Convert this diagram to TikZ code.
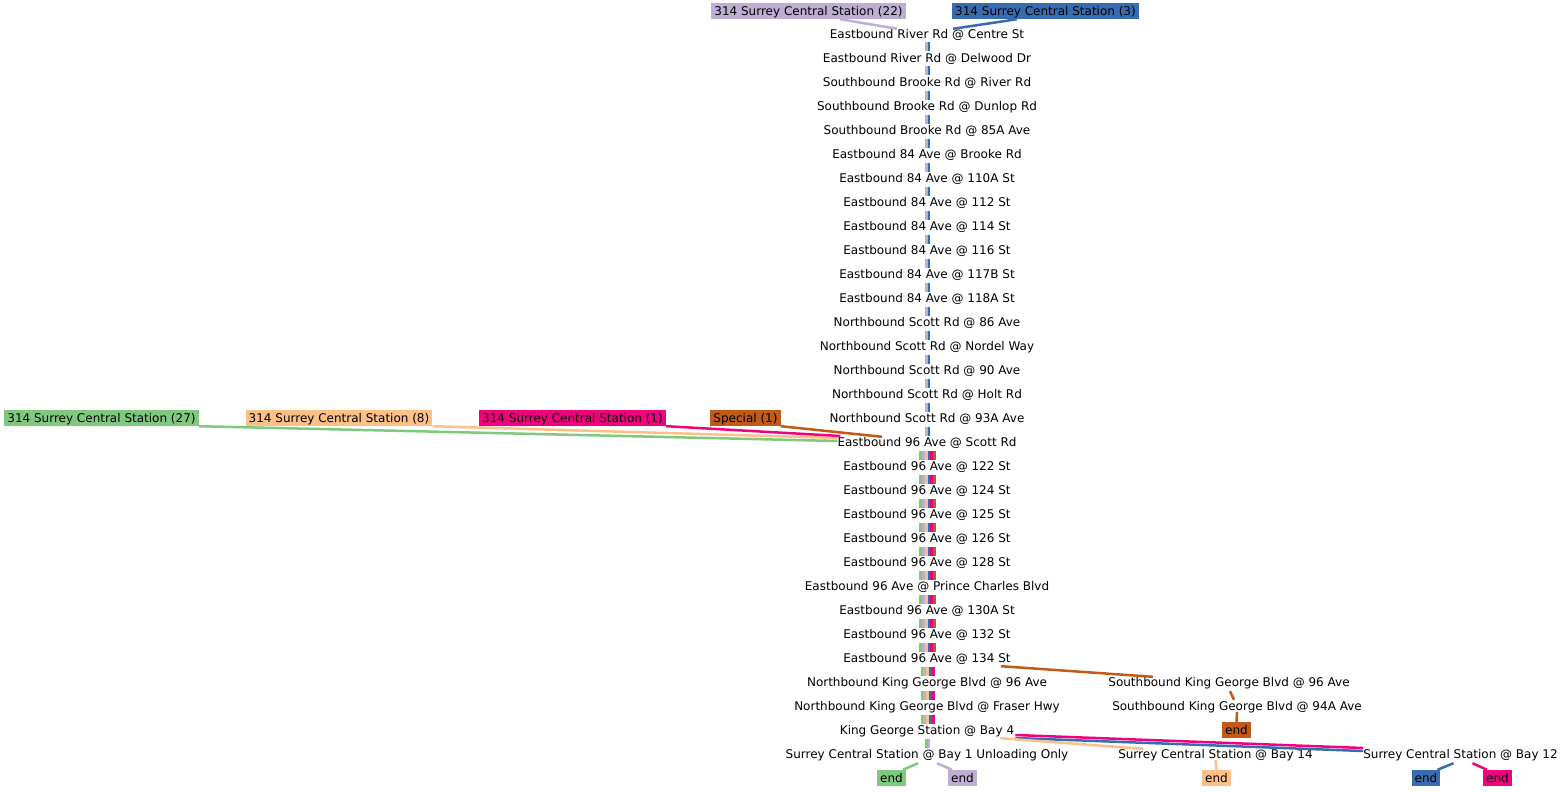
\documentclass[tikz,border=0pt]{standalone}
\usepackage{fontspec}
\setmainfont{DejaVu Sans}
\usetikzlibrary{calc}
\definecolor{cg}{HTML}{7FC97F}
\definecolor{cp}{HTML}{BEAED4}
\definecolor{co}{HTML}{FDC086}
\definecolor{cb}{HTML}{386CB0}
\definecolor{ck}{HTML}{F0027F}
\definecolor{cr}{HTML}{BF5B17}
\newcommand\segstripes[4]{%
  \foreach \i in {#1,...,#2}{%
    \pgfmathtruncatemacro\j{\i+1}%
    \foreach \c [count=\k from 0] in {#4}{%
      \pgfmathsetmacro\dx{0.5+(\k-(#3-1)/2)*2.8}%
      \draw[stripe=\c] ($(s\i)+(\dx,8.5)$) -- ($(s\j)+(\dx,-6.5)$);
    }}}
\begin{document}
\begin{tikzpicture}[x=1pt,y=-1pt,
  stop/.style={inner sep=0pt, text height=10.5pt, text depth=1.5pt, font=\fontsize{12}{14}\selectfont},
  tag/.style={stop, inner xsep=3pt, inner ysep=2pt, fill=#1},
  link/.style={line width=2.5pt, draw=#1},
  stripe/.style={line width=2.8pt, draw=#1}]
\useasboundingbox[fill=white] (0,0) rectangle (1566,792);
\foreach \i/\t in {
  0/Eastbound River Rd @ Centre St,
  1/Eastbound River Rd @ Delwood Dr,
  2/Southbound Brooke Rd @ River Rd,
  3/Southbound Brooke Rd @ Dunlop Rd,
  4/Southbound Brooke Rd @ 85A Ave,
  5/Eastbound 84 Ave @ Brooke Rd,
  6/Eastbound 84 Ave @ 110A St,
  7/Eastbound 84 Ave @ 112 St,
  8/Eastbound 84 Ave @ 114 St,
  9/Eastbound 84 Ave @ 116 St,
  10/Eastbound 84 Ave @ 117B St,
  11/Eastbound 84 Ave @ 118A St,
  12/Northbound Scott Rd @ 86 Ave,
  13/Northbound Scott Rd @ Nordel Way,
  14/Northbound Scott Rd @ 90 Ave,
  15/Northbound Scott Rd @ Holt Rd,
  16/Northbound Scott Rd @ 93A Ave,
  17/Eastbound 96 Ave @ Scott Rd,
  18/Eastbound 96 Ave @ 122 St,
  19/Eastbound 96 Ave @ 124 St,
  20/Eastbound 96 Ave @ 125 St,
  21/Eastbound 96 Ave @ 126 St,
  22/Eastbound 96 Ave @ 128 St,
  23/Eastbound 96 Ave @ Prince Charles Blvd,
  24/Eastbound 96 Ave @ 130A St,
  25/Eastbound 96 Ave @ 132 St,
  26/Eastbound 96 Ave @ 134 St,
  27/Northbound King George Blvd @ 96 Ave,
  28/Northbound King George Blvd @ Fraser Hwy,
  29/King George Station @ Bay 4,
  30/Surrey Central Station @ Bay 1 Unloading Only}
  \node[stop] (s\i) at (927,{34+24*\i}) {\t};
\node[stop] (r1) at (1229,682) {Southbound King George Blvd @ 96 Ave};
\node[stop] (r2) at (1237,706) {Southbound King George Blvd @ 94A Ave};
\node[stop] (r3) at (1215.5,754) {Surrey Central Station @ Bay 14};
\node[stop] (r4) at (1460.5,754) {Surrey Central Station @ Bay 12};
% tags
\node[tag=cp] (lp22) at (808.5,11) {314 Surrey Central Station (22)};
\node[tag=cb] (lb3) at (1045.5,11) {314 Surrey Central Station (3)};
\node[tag=cg] (lg27) at (101.5,418) {314 Surrey Central Station (27)};
\node[tag=co] (lo8) at (339,418) {314 Surrey Central Station (8)};
\node[tag=ck] (lk1) at (572.5,418) {314 Surrey Central Station (1)};
\node[tag=cr] (lsp) at (745.5,418) {Special (1)};
\node[tag=cg] (eg) at (891.5,778) {end};
\node[tag=cp] (ep) at (962.5,778) {end};
\node[tag=cr] (er) at (1236.5,730) {end};
\node[tag=co] (eo) at (1216.5,778) {end};
\node[tag=cb] (eb) at (1426,778) {end};
\node[tag=ck] (ek) at (1497.5,778) {end};
% stripes
\segstripes{0}{16}{2}{cp,cb}
\segstripes{17}{25}{6}{cg,cp,co,cb,ck,cr}
\segstripes{26}{28}{5}{cg,cp,co,cb,ck}
\foreach \c [count=\k from 0] in {cg,cp}{%
  \pgfmathsetmacro\dx{0.5+(\k-0.5)*2.8}%
  \draw[stripe=\c] ($(s29)+(\dx,8.5)$) -- ($(s30)+(\dx,-6.5)$);}
% connectors
\draw[link=cp] ($(lp22.south)+(31.5,0)$) -- ($(s0.north)+(-30,1)$);
\draw[link=cb] ($(lb3.south)+(-28.5,0)$) -- ($(s0.north)+(26,1)$);
\draw[link=cg] (lg27.south east) -- ($(s17.west)+(0,-1)$);
\draw[link=co] (lo8.south east) -- ($(s17.west)+(0,-4)$);
\draw[link=ck] (lk1.south east) -- ($(s17.west)+(3,-6)$);
\draw[link=cr] (lsp.south east) -- ($(s17.north)+(-45,1)$);
\draw[link=cr] ($(s26.south east)+(-10,2)$) -- ($(r1.north)+(-76,1)$);
\draw[link=cr] ($(r1.south)+(1,3)$) -- ($(r2.north)+(-3,0)$);
\draw[link=cr] (r2.south) -- (er.north);
\draw[link=ck] ($(s29.east)+(1,5)$) -- ($(r4.west)+(0,-6)$);
\draw[link=cb] ($(s29.east)+(1,8)$) -- ($(r4.west)+(0,-3)$);
\draw[link=co] ($(s29.south east)+(-14,2)$) -- ($(r3.north)+(-72,1)$);
\draw[link=co] (r3.south) -- (eo.north);
\draw[link=cb] ($(r4.south)+(-7,3)$) -- ($(eb.north east)+(-3,0)$);
\draw[link=ck] ($(r4.south)+(12,3)$) -- ($(ek.north west)+(4,0)$);
\draw[link=cg] ($(s30.south)+(-9,3)$) -- ($(eg.north east)+(-3,0)$);
\draw[link=cp] ($(s30.south)+(10,3)$) -- ($(ep.north west)+(4,0)$);
\end{tikzpicture}
\end{document}
